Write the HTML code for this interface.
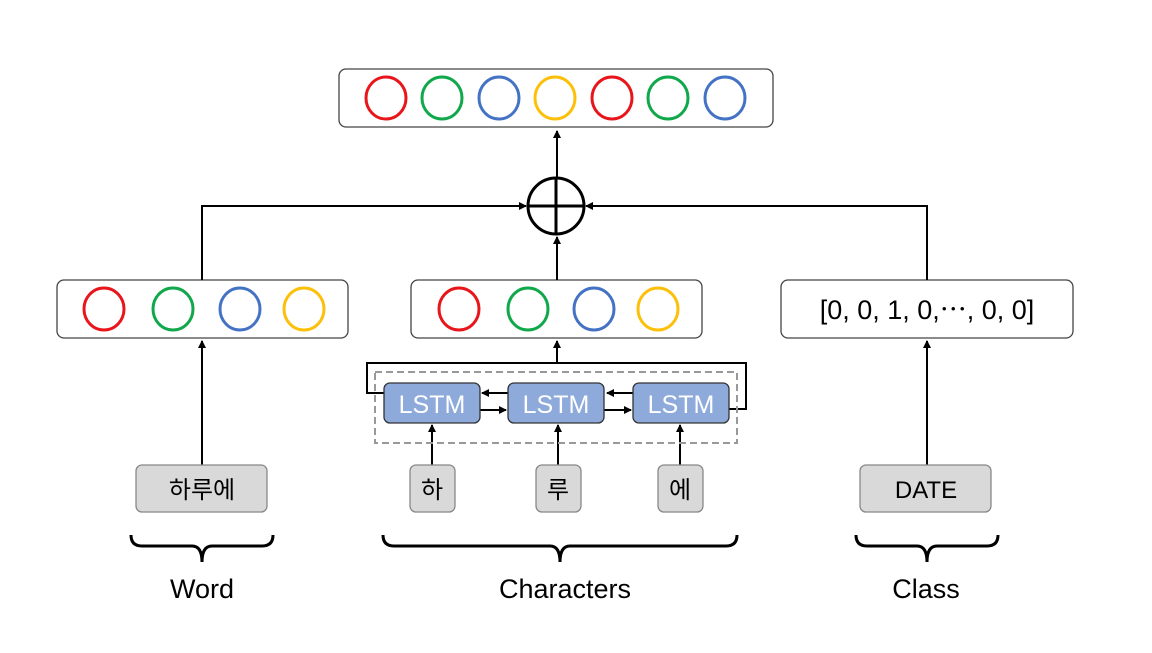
<!DOCTYPE html>
<html><head><meta charset="utf-8"><style>body{margin:0;background:#fff}</style></head><body>
<svg width="1152" height="648" viewBox="0 0 1152 648" xmlns="http://www.w3.org/2000/svg" font-family="Liberation Sans, Noto Sans CJK KR, sans-serif">
<defs><marker id="a" markerWidth="8" markerHeight="8" refX="7" refY="4" orient="auto" markerUnits="userSpaceOnUse"><path d="M0,0 L8,4 L0,8z" fill="#000"/></marker></defs>
<g fill="#fff" stroke="#444" stroke-width="1.3">
<rect x="339" y="69" width="434" height="58" rx="7"/>
<rect x="57" y="280" width="291" height="58" rx="7"/>
<rect x="411" y="280" width="291" height="58" rx="7"/>
<rect x="781" y="280" width="292" height="58" rx="7"/>
</g>
<g fill="none" stroke-width="3">
<ellipse cx="386" cy="98" rx="20" ry="21" stroke="#e8151b"/>
<ellipse cx="442" cy="98" rx="20" ry="21" stroke="#10a84b"/>
<ellipse cx="499" cy="98" rx="20" ry="21" stroke="#4472c4"/>
<ellipse cx="555" cy="98" rx="20" ry="21" stroke="#fcc00a"/>
<ellipse cx="612" cy="98" rx="20" ry="21" stroke="#e8151b"/>
<ellipse cx="668" cy="98" rx="20" ry="21" stroke="#10a84b"/>
<ellipse cx="725" cy="98" rx="20" ry="21" stroke="#4472c4"/>
<ellipse cx="104" cy="309" rx="20" ry="21" stroke="#e8151b"/>
<ellipse cx="173" cy="309" rx="20" ry="21" stroke="#10a84b"/>
<ellipse cx="240" cy="309" rx="20" ry="21" stroke="#4472c4"/>
<ellipse cx="304" cy="309" rx="20" ry="21" stroke="#fcc00a"/>
<ellipse cx="459" cy="309" rx="20" ry="21" stroke="#e8151b"/>
<ellipse cx="528" cy="309" rx="20" ry="21" stroke="#10a84b"/>
<ellipse cx="594" cy="309" rx="20" ry="21" stroke="#4472c4"/>
<ellipse cx="658" cy="309" rx="20" ry="21" stroke="#fcc00a"/>
</g>
<text x="927" y="319" font-size="27" text-anchor="middle">[0, 0, 1, 0,⋯, 0, 0]</text>
<circle cx="556" cy="206" r="28" fill="none" stroke="#000" stroke-width="3"/>
<path d="M528,206H584M556,178V234" stroke="#000" stroke-width="3"/>
<g stroke="#000" stroke-width="2" fill="none">
<path d="M202,280V206H526" marker-end="url(#a)"/>
<path d="M927,280V206H586" marker-end="url(#a)"/>
<path d="M557,280V237" marker-end="url(#a)"/>
<path d="M557,178V131" marker-end="url(#a)"/>
<path d="M202,465V341" marker-end="url(#a)"/>
<path d="M927,465V341" marker-end="url(#a)"/>
<path d="M384,393H367V363H746V409H729"/>
<path d="M557,363V341" marker-end="url(#a)"/>
<path d="M508,393H482" marker-end="url(#a)"/>
<path d="M633,393H607" marker-end="url(#a)"/>
<path d="M480,410H506" marker-end="url(#a)"/>
<path d="M604,410H631" marker-end="url(#a)"/>
<path d="M432,465V425" marker-end="url(#a)"/>
<path d="M558,465V425" marker-end="url(#a)"/>
<path d="M680,465V425" marker-end="url(#a)"/>
</g>
<rect x="375" y="372" width="362" height="71" fill="none" stroke="#999" stroke-width="2" stroke-dasharray="7,4"/>
<g fill="#8eaadb" stroke="#333" stroke-width="1.3">
<rect x="384" y="383" width="96" height="40" rx="6"/>
<rect x="508" y="383" width="96" height="40" rx="6"/>
<rect x="633" y="383" width="96" height="40" rx="6"/>
</g>
<g fill="#fff" font-size="25" text-anchor="middle">
<text x="432" y="413">LSTM</text><text x="556" y="413">LSTM</text><text x="681" y="413">LSTM</text>
</g>
<g fill="#d9d9d9" stroke="#888" stroke-width="1.3">
<rect x="136" y="465" width="131" height="47" rx="6"/>
<rect x="860" y="465" width="131" height="47" rx="6"/>
<rect x="410" y="465" width="45" height="47" rx="6"/>
<rect x="536" y="465" width="45" height="47" rx="6"/>
<rect x="658" y="465" width="45" height="47" rx="6"/>
</g>
<g font-size="24" text-anchor="middle">
<text x="202" y="498">하루에</text><text x="926" y="498">DATE</text>
<text x="432" y="498">하</text><text x="558" y="498">루</text><text x="680" y="498">에</text>
</g>
<g stroke="#000" stroke-width="3" fill="none">
<path d="M131,535Q131,546 142,546H192Q202,546 202,562Q202,546 212,546H262Q273,546 273,535"/>
<path d="M383,535Q383,546 394,546H550Q560,546 560,562Q560,546 570,546H726Q737,546 737,535"/>
<path d="M856,535Q856,546 867,546H917Q927,546 927,562Q927,546 937,546H987Q998,546 998,535"/>
</g>
<g font-size="27" text-anchor="middle">
<text x="202" y="598">Word</text><text x="565" y="598">Characters</text><text x="926" y="598">Class</text>
</g>
</svg>
</body></html>
